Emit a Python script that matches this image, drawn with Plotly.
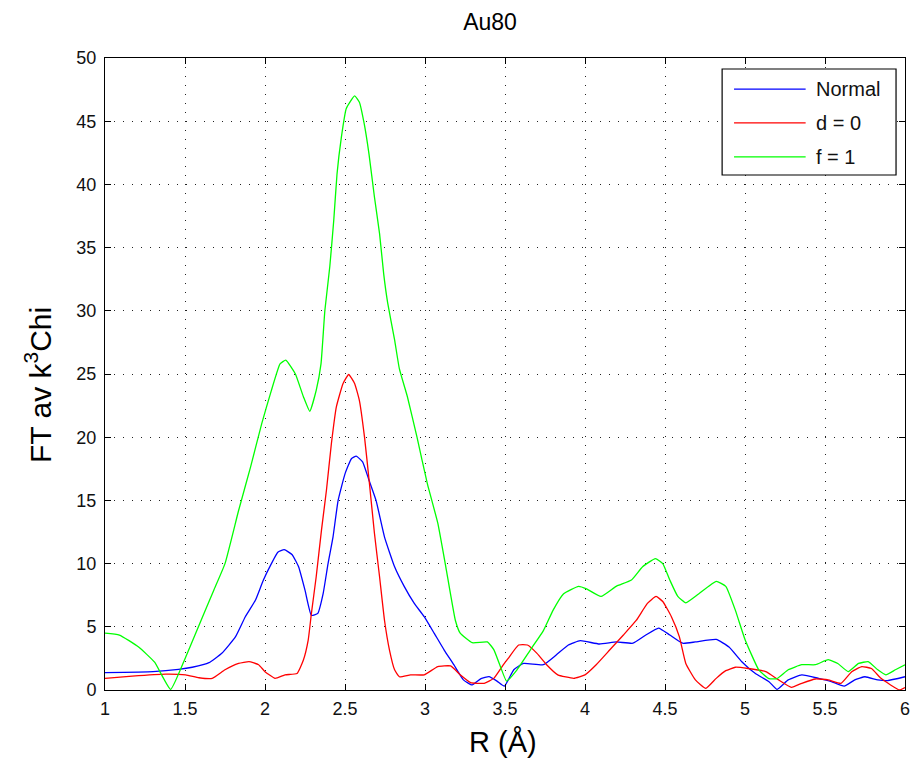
import plotly.graph_objects as go

# Fourier transform magnitude of k^3-weighted chi for Au80
r_normal = [1.0, 1.30, 1.46, 1.545, 1.65, 1.73, 1.815, 1.877, 1.94, 1.99, 2.04, 2.08, 2.12, 2.17,
            2.21, 2.25, 2.29, 2.33, 2.363, 2.394, 2.425, 2.457, 2.50, 2.54, 2.57, 2.61, 2.65, 2.694,
            2.747, 2.81, 2.87, 2.933, 2.995, 3.057, 3.12, 3.18, 3.24, 3.295, 3.35, 3.40, 3.45, 3.496,
            3.555, 3.616, 3.74, 3.82, 3.896, 3.97, 4.09, 4.196, 4.30, 4.38, 4.46, 4.53, 4.61, 4.69,
            4.82, 4.90, 4.98, 5.065, 5.15, 5.2, 5.27, 5.355, 5.46, 5.54, 5.62, 5.686, 5.75, 5.83,
            5.89, 6.0]
ft_normal = [1.37, 1.45, 1.63, 1.8, 2.16, 2.9, 4.2, 5.8, 7.1, 8.7, 10.0, 10.9, 11.1, 10.7,
             9.75, 7.9, 5.9, 6.06, 7.6, 10.0, 12.1, 15.0, 17.1, 18.3, 18.5, 18.05, 16.6, 15.0,
             12.1, 9.75, 8.2, 6.85, 5.8, 4.5, 3.16, 2.0, 0.8, 0.4, 0.9, 1.05, 0.7, 0.3,
             1.6, 2.1, 2.0, 2.77, 3.56, 3.9, 3.64, 3.8, 3.7, 4.35, 4.9, 4.35, 3.7, 3.8,
             4.0, 3.4, 2.24, 1.3, 0.66, 0.05, 0.8, 1.2, 0.92, 0.66, 0.3, 0.8, 1.05, 0.8,
             0.74, 1.05]

r_d0 = [1.0, 1.17, 1.38, 1.504, 1.587, 1.67, 1.75, 1.835, 1.9, 1.96, 2.0, 2.063, 2.125, 2.2,
        2.24, 2.27, 2.29, 2.32, 2.353, 2.384, 2.415, 2.446, 2.488, 2.523, 2.56, 2.59, 2.622,
        2.653, 2.684, 2.716, 2.747, 2.778, 2.81, 2.84, 2.91, 2.995, 3.08, 3.16, 3.22, 3.285,
        3.37, 3.43, 3.49, 3.52, 3.585, 3.64, 3.70, 3.76, 3.83, 3.93, 4.0, 4.07, 4.154, 4.24,
        4.32, 4.39, 4.444, 4.486, 4.54, 4.59, 4.63, 4.69, 4.755, 4.82, 4.88, 4.94, 5.02, 5.13,
        5.21, 5.29, 5.355, 5.44, 5.52, 5.6, 5.667, 5.73, 5.79, 5.85, 5.91, 5.966, 6.0]
ft_d0 = [0.92, 1.1, 1.26, 1.2, 0.97, 0.92, 1.6, 2.1, 2.24, 2.0, 1.45, 0.92, 1.2, 1.3,
         2.37, 3.95, 6.06, 8.96, 12.65, 15.8, 19.5, 22.4, 24.25, 24.96, 24.25, 22.9, 20.0,
         16.3, 12.4, 8.96, 5.5, 3.16, 1.6, 1.05, 1.2, 1.2, 1.85, 1.9, 1.2, 0.58,
         0.53, 0.92, 2.0, 2.5, 3.56, 3.56, 2.9, 2.0, 1.2, 0.92, 1.2, 2.0, 3.16, 4.35,
         5.5, 6.85, 7.4, 7.0, 5.8, 4.2, 2.1, 0.8, 0.13, 0.92, 1.53, 1.8, 1.7, 1.45,
         0.8, 0.21, 0.53, 0.87, 0.8, 0.53, 1.45, 1.85, 1.7, 0.92, 0.4, 0.0, 0.2]

r_f1 = [1.0, 1.09, 1.21, 1.31, 1.41, 1.504, 1.61, 1.68, 1.75, 1.835, 1.91, 1.98, 2.04, 2.094,
        2.13, 2.19, 2.24, 2.28, 2.32, 2.35, 2.374, 2.405, 2.43, 2.45, 2.477, 2.508, 2.56, 2.59,
        2.62, 2.65, 2.684, 2.716, 2.742, 2.767, 2.81, 2.84, 2.89, 2.95, 3.015, 3.08, 3.13, 3.19,
        3.22, 3.295, 3.39, 3.43, 3.47, 3.51, 3.575, 3.66, 3.74, 3.80, 3.865, 3.96, 4.01, 4.10,
        4.195, 4.29, 4.36, 4.44, 4.486, 4.53, 4.58, 4.63, 4.71, 4.82, 4.88, 4.94, 5.0, 5.086,
        5.15, 5.2, 5.27, 5.355, 5.44, 5.52, 5.58, 5.645, 5.71, 5.77, 5.83, 5.88, 5.94, 6.0]
ft_f1 = [4.5, 4.35, 3.4, 2.2, 0.05, 2.6, 5.8, 7.9, 10.0, 14.2, 17.65, 21.1, 23.7, 25.8,
         26.1, 25.0, 23.2, 22.05, 23.7, 25.8, 30.0, 33.5, 37.2, 40.8, 43.7, 46.0, 47.0, 46.5,
         44.8, 42.4, 39.0, 36.1, 32.9, 30.6, 27.7, 25.4, 23.2, 20.0, 16.3, 13.2, 9.75, 5.5,
         4.5, 3.74, 3.8, 3.2, 1.9, 0.7, 1.6, 3.2, 4.7, 6.3, 7.6, 8.2, 8.0, 7.4,
         8.2, 8.7, 9.75, 10.4, 10.0, 8.7, 7.4, 6.9, 7.6, 8.6, 8.2, 6.3, 4.0, 1.6,
         0.9, 0.9, 1.6, 2.0, 2.0, 2.4, 2.1, 1.45, 2.1, 2.24, 1.6, 1.2, 1.6, 2.0]

x_ticks = [1, 1.5, 2, 2.5, 3, 3.5, 4, 4.5, 5, 5.5, 6]
y_ticks = [0, 5, 10, 15, 20, 25, 30, 35, 40, 45, 50]

series = [
    ("Normal", r_normal, ft_normal, "#0000ff"),
    ("d = 0", r_d0, ft_d0, "#ff0000"),
    ("f = 1", r_f1, ft_f1, "#00ff00"),
]

FONT = "Liberation Sans, Arial, sans-serif"

fig = go.Figure()
for name, xs, ys, color in series:
    fig.add_trace(go.Scatter(
        x=xs, y=ys, mode="lines", name=name, showlegend=False,
        line=dict(color=color, width=1.3, shape="spline", smoothing=0.4),
    ))

axis_common = dict(
    showline=True, linecolor="black", linewidth=1, mirror="ticks",
    ticks="inside", ticklen=6, tickcolor="black", tickwidth=1,
    showgrid=True, gridcolor="#222222", gridwidth=1, griddash="1px,8px",
    zeroline=False, tickfont=dict(family=FONT, size=18, color="#111111"),
)

fig.update_xaxes(range=[1, 6], tickvals=x_ticks, ticktext=[f"{v:g}" for v in x_ticks],
                 ticklabelstandoff=2, **axis_common)
fig.update_yaxes(range=[0, 50], tickvals=y_ticks, ticktext=[str(v) for v in y_ticks],
                 ticklabelstandoff=4, **axis_common)

# axis titles
fig.add_annotation(text="FT av k<sup>3</sup>Chi", xref="paper", yref="paper",
                   x=-0.083, y=0.482, xanchor="center", yanchor="middle", textangle=-90,
                   showarrow=False, font=dict(family=FONT, size=30, color="black"))
fig.add_annotation(text="R (Å)", xref="paper", yref="paper",
                   x=0.498, y=-0.082, xanchor="center", yanchor="middle",
                   showarrow=False, font=dict(family=FONT, size=29, color="black"))

# legend box in the upper-right corner of the axes (paper coordinates)
fig.add_shape(type="rect", xref="paper", yref="paper",
              x0=0.7714, x1=0.9888, y0=0.8149, y1=0.9826,
              line=dict(color="black", width=1.2), fillcolor="white", layer="above")
legend_rows = [0.9509, 0.8972, 0.8434]
for (name, _, _, color), ly in zip(series, legend_rows):
    fig.add_shape(type="line", xref="paper", yref="paper",
                  x0=0.7863, x1=0.8758, y0=ly, y1=ly,
                  line=dict(color=color, width=1.3), layer="above")
    fig.add_annotation(text=name, xref="paper", yref="paper", x=0.8857, y=ly,
                       xanchor="left", yanchor="middle", showarrow=False,
                       font=dict(family=FONT, size=20, color="#111111"))

fig.update_layout(
    width=916, height=762,
    margin=dict(l=105, r=6, t=58, b=72),
    paper_bgcolor="white", plot_bgcolor="white",
    title=dict(text="Au80", x=0.535, xanchor="center", y=0.971, yanchor="middle",
               font=dict(family=FONT, size=23, color="black")),
    showlegend=False,
)

fig.write_html("out.html")
